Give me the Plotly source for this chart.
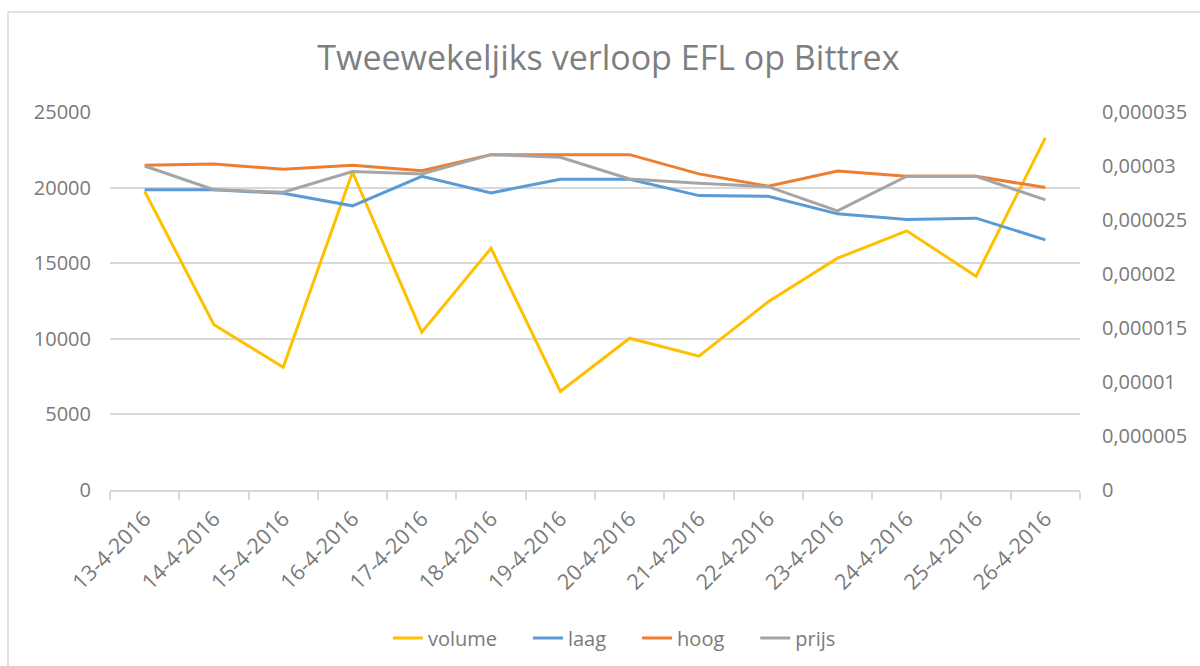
import plotly.graph_objects as go

dates = ["13-4-2016", "14-4-2016", "15-4-2016", "16-4-2016", "17-4-2016", "18-4-2016", "19-4-2016",
         "20-4-2016", "21-4-2016", "22-4-2016", "23-4-2016", "24-4-2016", "25-4-2016", "26-4-2016"]
volume = [19760, 10930, 8120, 21020, 10440, 15990, 6520, 10040, 8850, 12450, 15330, 17140, 14140, 23290]
laag = [0.00002779, 0.00002779, 0.00002748, 0.00002631, 0.00002905, 0.00002751, 0.00002878,
        0.00002878, 0.00002726, 0.00002720, 0.00002557, 0.00002504, 0.00002517, 0.00002316]
hoog = [0.00003007, 0.00003019, 0.00002970, 0.00003007, 0.00002957, 0.00003105, 0.00003105,
        0.00003105, 0.00002927, 0.00002813, 0.00002954, 0.00002905, 0.00002905, 0.00002800]
prijs = [0.00003000, 0.00002781, 0.00002757, 0.00002948, 0.00002927, 0.00003105, 0.00003081,
         0.00002880, 0.00002841, 0.00002809, 0.00002585, 0.00002905, 0.00002905, 0.00002686]

series_names = ["volume", "laag", "hoog", "prijs"]
left_ticks = [0, 5000, 10000, 15000, 20000, 25000]
left_labels = ["0", "5000", "10000", "15000", "20000", "25000"]
right_ticks = [0, 0.000005, 0.00001, 0.000015, 0.00002, 0.000025, 0.00003, 0.000035]
right_labels = ["0", "0,000005", "0,00001", "0,000015", "0,00002", "0,000025", "0,00003", "0,000035"]

W, H = 1200, 666
ML, MR, MT, MB = 110, 120, 112, 176
FONT = "Open Sans, Noto Sans, sans-serif"
TXT = "#7a7a7a"
GRID = "#d9d9d9"
PAD = "\u00a0" * 5  # visual spacing between legend entries

colors = ["#FFC000", "#5B9BD5", "#ED7D31", "#A5A5A5"]
values = [volume, laag, hoog, prijs]
axes = ["y", "y2", "y2", "y2"]

fig = go.Figure()
for i, (nm, vals, col, ax) in enumerate(zip(series_names, values, colors, axes)):
    label = nm + (PAD if i < len(series_names) - 1 else "")
    fig.add_trace(go.Scatter(x=dates, y=vals, name=label, mode="lines",
                             line=dict(color=col, width=3), yaxis=ax,
                             hovertemplate=nm + ": %{y}<extra></extra>"))

pw = W - ML - MR
ph = H - MT - MB
# outer chart border (Excel chart area)
fig.add_shape(type="rect", xref="paper", yref="paper",
              x0=(8 - ML) / pw, x1=(W + 10 - ML) / pw,
              y0=(H - MB - (H + 10)) / ph, y1=(H - MB - 12) / ph,
              line=dict(color=GRID, width=1.5), fillcolor="rgba(0,0,0,0)", layer="below")

fig.update_layout(
    width=W, height=H,
    margin=dict(l=ML, r=MR, t=MT, b=MB, autoexpand=False),
    paper_bgcolor="white", plot_bgcolor="white",
    font=dict(family=FONT, size=20, color=TXT),
    title=dict(text="Tweewekeljiks verloop EFL op Bittrex", x=0.507, xref="container",
               y=1 - 58 / H, yref="container", xanchor="center", yanchor="middle",
               font=dict(family=FONT, size=34, color="#7f7f7f")),
    xaxis=dict(type="category", range=[-0.5, len(dates) - 0.5], showgrid=False,
               showline=True, linecolor=GRID, linewidth=1.5,
               ticks="outside", tickson="boundaries", ticklen=8, tickcolor=GRID, tickwidth=1.5,
               tickangle=-45, ticklabelstandoff=6, tickfont=dict(size=21.5, color=TXT),
               zeroline=False),
    yaxis=dict(range=[0, 25000], tickvals=left_ticks, ticktext=left_labels, showgrid=True,
               gridcolor=GRID, gridwidth=1.5, zeroline=False, showline=False,
               ticklabelstandoff=18, tickfont=dict(size=20, color=TXT)),
    yaxis2=dict(range=[0, 0.000035], tickvals=right_ticks, ticktext=right_labels, overlaying="y",
                side="right", showgrid=False, zeroline=False, showline=False,
                ticklabelstandoff=21, tickfont=dict(size=20, color=TXT)),
    legend=dict(orientation="h", xref="container", yref="container", x=0.512, y=1 - 638 / H,
                xanchor="center", yanchor="middle", font=dict(size=20, color=TXT),
                tracegroupgap=0),
    showlegend=True,
)

fig.write_html("out.html", config={"displayModeBar": False},
               post_script="document.body.style.margin='0';document.body.style.overflow='hidden';")
